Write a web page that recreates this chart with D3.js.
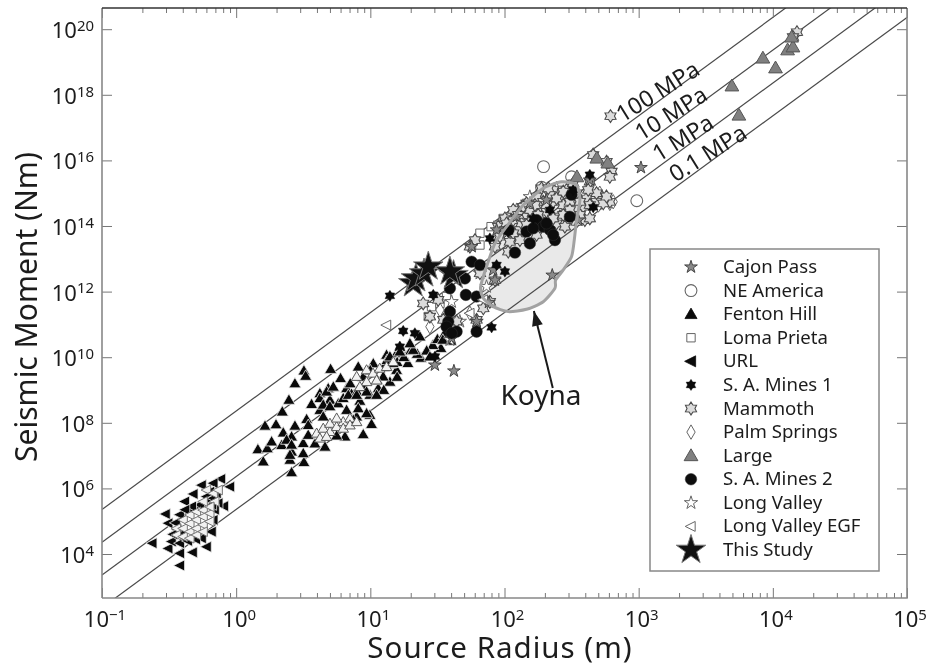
<!DOCTYPE html>
<html><head><meta charset="utf-8">
<script src="https://cdnjs.cloudflare.com/ajax/libs/d3/7.8.5/d3.min.js"></script>
<style>html,body{margin:0;padding:0;background:#fff}svg{display:block;filter:blur(0.5px)}text{font-family:"Noto Sans",sans-serif;fill:#1c1c1c}</style>
</head><body><svg id="c" width="928" height="666"></svg>
<script>
// All points are [log10 radius (m), log10 moment (Nm)].
const xTickExps=[-1,0,1,2,3,4,5];
const yTickExps=[4,6,8,10,12,14,16,18,20];
const stressLabels=["100 MPa","10 MPa","1 MPa","0.1 MPa"];
const stressLineR=[-1,5];
const stressLineM=[[5.36,23.36],[4.36,22.36],[3.36,21.36],[2.36,20.36]];
const labelAnchors=[[2.88,17.14],[3.02,16.58],[3.15,15.94],[3.275,15.32]];
const url=[[-0.113,6.29],[-0.257,6.10],[-0.046,6.05],[-0.170,6.16],[-0.319,5.83],[-0.382,5.60],[-0.526,5.22],[-0.506,4.94],[-0.091,5.46],[-0.170,5.04],[-0.183,4.68],[-0.625,4.33],[-0.506,4.17],[-0.419,4.02],[-0.324,4.05],[-0.220,4.22],[-0.419,3.65],[-0.257,4.48],[-0.146,5.85],[-0.195,5.90],[-0.220,5.75],[-0.133,5.55],[-0.295,5.44],[-0.456,4.63],[-0.481,4.38],[-0.419,4.33],[-0.44,4.75],[-0.40,4.62],[-0.36,4.4],[-0.30,4.45],[-0.27,5.5],[-0.35,5.3],[-0.33,5.45],[-0.47,4.6],[-0.45,4.95],[-0.42,5.2],[-0.38,5.35],[-0.2,5.65],[-0.17,5.7],[-0.16,5.35],[-0.18,5.5]];
const urlCore=[[-0.444,4.78],[-0.444,4.58],[-0.394,5.04],[-0.394,4.78],[-0.394,4.53],[-0.344,5.19],[-0.344,4.93],[-0.344,4.68],[-0.344,4.48],[-0.295,5.29],[-0.295,5.04],[-0.295,4.78],[-0.295,4.58],[-0.245,5.34],[-0.245,5.14],[-0.245,4.89],[-0.245,4.68],[-0.195,5.24],[-0.195,4.99],[-0.22,5.95],[-0.17,5.85],[-0.158,5.6],[-0.195,5.44],[-0.133,5.95],[-0.245,5.6]];
const fentonHill=[[0.505,9.59],[0.518,9.43],[0.438,9.20],[0.393,8.70],[0.344,8.34],[0.215,7.91],[0.297,7.95],[0.438,7.91],[0.525,8.11],[0.162,7.19],[0.232,7.22],[0.264,7.43],[0.351,7.70],[0.339,7.32],[0.413,7.58],[0.202,6.82],[0.401,6.87],[0.505,6.80],[0.413,6.49],[0.413,7.12],[0.500,7.38],[0.562,8.57],[0.624,8.90],[0.686,9.05],[0.704,9.64],[0.778,9.36],[0.823,9.05],[0.860,8.88],[0.624,8.39],[0.699,8.70],[0.761,8.59],[0.922,8.67],[0.997,8.85],[1.059,9.05],[0.947,9.40],[0.910,9.71],[1.022,9.81],[1.121,10.07],[1.196,10.12],[1.146,9.25],[1.196,9.61],[1.096,9.41],[0.997,8.24],[1.009,7.96],[0.947,7.65],[0.811,7.58],[0.749,7.61],[0.662,7.27],[0.587,7.37],[0.537,7.63],[0.537,7.93],[0.649,8.19],[0.823,8.39],[0.898,8.19],[0.85,9.2],[0.95,9.1],[1.05,9.3],[1.0,9.6],[1.1,9.7],[0.9,8.95],[1.15,9.8],[1.2,9.85],[1.2,9.4],[1.1,9.0],[1.28,9.82],[1.377,9.98],[1.526,10.28],[1.466,10.37],[1.124,9.91],[1.22,10.31],[1.35,10.1],[1.42,10.2],[1.3,10.2],[1.25,10.0],[1.5,10.55],[1.6,10.5],[1.55,10.7],[0.624,8.75],[0.674,8.95],[0.724,9.1],[0.649,8.55],[0.699,8.5],[0.798,8.75],[0.836,8.85],[0.898,8.85],[0.972,8.95],[1.047,8.85],[0.91,8.44],[0.972,8.29],[0.873,8.09],[0.376,7.48],[0.413,7.33],[0.401,7.02],[0.5,7.07],[1.146,10.02],[1.22,10.17],[1.32,10.22],[1.54,10.53],[1.37,10.63],[1.295,10.42],[1.444,10.02],[1.17,9.82]];
const fentonCore=[[0.60,7.68],[0.649,7.83],[0.699,7.73],[0.699,7.98],[0.749,7.88],[0.798,8.03],[0.798,7.83],[0.848,8.14],[0.848,7.93],[0.898,8.03],[0.624,7.53],[0.674,7.58],[0.749,8.14],[0.972,9.61],[1.02,9.51],[1.07,9.66],[0.898,9.41],[0.972,9.25],[1.047,9.3],[1.121,9.71],[1.171,9.86],[0.922,9.1]];
const cajonPass=[[3.017,15.78],[2.356,12.50],[1.884,11.67],[1.929,12.35],[1.792,11.09],[1.606,10.58],[1.481,9.76],[1.623,9.58],[1.755,13.37],[2.015,13.78],[1.941,13.88],[2.09,14.29],[2.189,14.69],[2.313,14.79],[1.916,12.66],[2.636,15.40],[2.55,14.18]];
const neAmerica=[[2.291,15.81],[2.986,14.77],[2.5,15.5],[2.276,15.18]];
const lomaPrieta=[[1.817,13.78],[1.99,14.23],[1.817,13.42],[2.164,14.69],[1.9,13.98],[1.568,11.85],[1.456,11.54],[1.519,11.64],[2.276,15.15],[1.593,11.03],[1.432,11.24]];
const saMines1=[[1.146,11.87],[1.245,10.80],[1.904,10.91],[2.636,15.56],[2.661,14.57],[1.891,13.62],[2.028,13.83],[2.003,12.61],[1.941,12.81],[1.332,10.73],[1.482,10.02],[1.22,10.32],[2.214,14.23],[2.338,14.49],[2.512,15.10],[1.469,11.9]];
const mammoth=[[2.79,17.35],[4.18,19.91],[4.15,19.76],[2.661,16.165],[2.761,15.96],[2.798,15.66],[2.785,15.50],[2.636,15.35],[2.723,14.89],[2.785,14.74],[2.686,14.74],[2.612,14.84],[2.599,14.18],[2.537,14.13],[2.463,15.10],[2.363,15.10],[2.276,15.15],[2.164,14.69],[2.264,14.59],[2.363,14.74],[2.438,14.64],[2.537,14.54],[2.003,14.23],[1.953,13.98],[1.742,13.37],[1.78,13.57],[2.065,14.18],[2.14,14.29],[2.214,14.39],[2.313,14.44],[2.413,14.29],[2.115,13.88],[2.239,13.73],[2.388,14.08],[2.512,15.30],[2.065,13.78],[2.003,13.88],[1.929,13.37],[2.028,13.22],[1.929,12.35],[1.817,12.56],[1.891,11.69],[1.842,11.49],[1.643,11.09],[1.792,11.14],[1.506,11.75],[1.444,11.24],[1.544,11.14],[1.394,11.64],[2.14,14.59],[2.19,14.49],[2.239,14.9],[2.289,14.74],[2.338,14.95],[2.388,14.84],[2.438,15.05],[2.487,14.74],[2.537,15.0],[2.587,14.59],[2.636,14.64],[2.686,15.0],[2.736,14.69],[2.76,14.9],[2.562,14.34],[2.636,14.23],[2.487,14.49],[2.438,14.34],[2.363,14.23],[2.313,14.64],[2.251,14.34],[2.189,14.13],[2.127,14.08],[2.065,14.49],[2.015,14.08],[1.966,13.68],[2.04,13.52],[2.115,13.57],[2.164,14.03],[2.264,13.98],[2.45,13.98],[2.562,14.74],[2.624,15.1],[2.326,15.15],[2.227,14.64],[2.102,14.34]];
const palmSprings=[[2.785,14.69],[2.661,16.165],[2.81,14.74],[2.71,15.0],[2.70,14.64],[2.61,14.39],[2.46,14.69],[2.363,14.9],[2.24,14.8],[1.444,10.93],[1.742,11.34],[1.519,11.44]];
const large=[[3.695,18.27],[3.747,17.38],[3.926,19.12],[4.02,18.82],[4.11,19.37],[4.15,19.46],[4.14,19.76],[2.688,16.07],[2.77,15.92],[2.54,15.50]];
const saMines2=[[1.755,12.91],[1.817,12.81],[1.705,12.40],[1.593,12.10],[1.712,11.90],[1.792,11.85],[1.593,11.39],[1.581,11.08],[1.643,10.78],[1.792,10.78],[2.078,13.19],[2.189,13.47],[2.164,13.83],[2.239,14.18],[2.289,13.98],[2.338,13.88],[2.376,13.57],[2.363,13.73],[2.50,14.95],[2.487,14.28],[1.568,10.93],[1.606,10.73],[2.03,13.88],[2.214,13.93],[2.313,14.08]];
const longValley=[[1.593,10.53],[1.792,11.09],[1.667,11.09],[1.606,11.69],[1.817,12.56],[1.866,12.15],[1.966,14.08],[2.09,14.49],[2.189,14.89],[2.288,15.0],[2.388,15.15]];
const longValleyEGF=[[1.121,10.98],[1.742,11.34],[1.842,11.75]];
const thisStudy=[[1.32,12.25],[1.34,12.4],[1.40,12.55],[1.432,12.76],[1.62,12.5],[1.593,12.61]];
const koynaR=[2.425,2.537,2.562,2.537,2.52,2.50,2.438,2.381,2.376,2.289,2.164,2.028,1.916,1.842,1.822,1.866,1.929,2.015,2.14,2.289];
const koynaM=[15.35,15.25,14.79,14.18,13.57,13.07,12.66,12.35,12.10,11.69,11.46,11.39,11.54,11.80,12.15,12.76,13.47,13.98,14.64,15.15];
const koynaArrow=[[2.36,9.06],[2.219,11.41]];
const koynaLabel=[1.97,8.55];
const legendLabels=["Cajon Pass","NE America","Fenton Hill","Loma Prieta","URL","S. A. Mines 1","Mammoth","Palm Springs","Large","S. A. Mines 2","Long Valley","Long Valley EGF","This Study"];

const svg=d3.select("#c");
const p=v=>Math.pow(10,v);
const x=d3.scaleLog().domain([p(-1),p(5)]).range([102,907]);
const y=d3.scaleLog().domain([p(2.659),p(20.646)]).range([598,8]);
const X=d=>x(p(d[0])),Y=d=>y(p(d[1]));

function hexagram(R){const pts=[];for(let i=0;i<12;i++){const r=i%2?R*0.62:R,a=i*Math.PI/6-Math.PI/2;pts.push([r*Math.cos(a),r*Math.sin(a)]);}return "M"+pts.join("L")+"Z";}
const sym=(t,s)=>d3.symbol().type(t).size(s)();
const leftTri={draw(c,size){const h=Math.sqrt(size*1.1547);c.moveTo(-h*0.58,0);c.lineTo(h*0.42,-h/2);c.lineTo(h*0.42,h/2);c.closePath();}};
const upTri={draw(c,size){const h=Math.sqrt(size*1.1547);c.moveTo(0,-h*0.55);c.lineTo(h*0.55,h*0.4);c.lineTo(-h*0.55,h*0.4);c.closePath();}};
const series=[
 {name:"Fenton Hill",data:fentonHill,path:sym(upTri,105),fill:"#0a0a0a",stroke:"#ececec",sw:0.8},
 {name:"Fenton core",data:fentonCore,path:sym(upTri,80),fill:"#f2f2f2",stroke:"#5a5a5a",sw:1},
 {name:"URL",data:url,path:sym(leftTri,105),fill:"#0a0a0a",stroke:"#ececec",sw:0.8},
 {name:"URL core",data:urlCore,path:sym(leftTri,80),fill:"#f2f2f2",stroke:"#777",sw:1},
 {name:"Loma Prieta",data:lomaPrieta,path:sym(d3.symbolSquare,70),fill:"#fff",stroke:"#666",sw:1},
 {name:"Palm Springs",data:palmSprings,path:sym(d3.symbolDiamond,60),fill:"#fff",stroke:"#666",sw:1},
 {name:"NE America",data:neAmerica,path:sym(d3.symbolCircle,110),fill:"#fff",stroke:"#666",sw:1.1},
 {name:"Long Valley",data:longValley,path:sym(d3.symbolStar,55),fill:"#fff",stroke:"#666",sw:1},
 {name:"Mammoth",data:mammoth,path:hexagram(6.4),fill:"#dcdcdc",stroke:"#4a4a4a",sw:1.1},
 {name:"Large",data:large,path:sym(upTri,135),fill:"#808080",stroke:"#555",sw:1},
 {name:"Cajon Pass",data:cajonPass,path:sym(d3.symbolStar,50),fill:"#8a8a8a",stroke:"#444",sw:1},
 {name:"S. A. Mines 2",data:saMines2,path:sym(d3.symbolCircle,105),fill:"#0d0d0d",stroke:"#333",sw:0.5},
 {name:"S. A. Mines 1",data:saMines1,path:hexagram(5.6),fill:"#0a0a0a",stroke:"#0a0a0a",sw:0.4},
 {name:"Long Valley EGF",data:longValleyEGF,path:sym(leftTri,85),fill:"#fff",stroke:"#666",sw:1},
 {name:"This Study",data:thisStudy,path:sym(d3.symbolStar,270),fill:"#111",stroke:"#777",sw:1}
];

svg.append("defs").append("clipPath").attr("id","plot").append("rect").attr("x",102).attr("y",8).attr("width",805).attr("height",590);

const koynaPts=koynaR.map((r,i)=>[r,koynaM[i]]);
const koynaLine=d3.line().x(X).y(Y).curve(d3.curveCardinalClosed.tension(0.3));
svg.append("path").attr("d",koynaLine(koynaPts)).attr("fill","#e9e9e9");

const g=svg.append("g").attr("clip-path","url(#plot)");
stressLineM.forEach(m=>{
 g.append("path").attr("d",d3.line().x(X).y(Y)([[stressLineR[0],m[0]],[stressLineR[1],m[1]]])).attr("fill","none").attr("stroke","#4a4a4a").attr("stroke-width",1.2);
});

series.forEach(s=>{
 g.append("g").selectAll("path").data(s.data).join("path").attr("d",s.path)
  .attr("transform",d=>`translate(${X(d)},${Y(d)})`)
  .attr("fill",s.fill).attr("stroke",s.stroke).attr("stroke-width",s.sw);
});

svg.append("path").attr("d",koynaLine(koynaPts)).attr("fill","none").attr("stroke","#a2a2a2").attr("stroke-width",3);

const a0=koynaArrow[0],a1=koynaArrow[1];
const ang=Math.atan2(Y(a1)-Y(a0),X(a1)-X(a0));
svg.append("path").attr("d",d3.line().x(X).y(Y)(koynaArrow)).attr("stroke","#1a1a1a").attr("stroke-width",2).attr("fill","none");
svg.append("path").attr("d","M0,0L-15,-5.5L-15,5.5Z").attr("fill","#1a1a1a")
 .attr("transform",`translate(${X(a1)},${Y(a1)}) rotate(${ang*180/Math.PI})`);
svg.append("text").attr("x",X(koynaLabel)).attr("y",Y(koynaLabel)).attr("font-size",28).text("Koyna");

stressLabels.forEach((t,i)=>{
 svg.append("text").attr("transform",`translate(${X(labelAnchors[i])},${Y(labelAnchors[i])}) rotate(-32)`)
  .attr("font-size",23).text(t);
});

const minors=[];xTickExps.slice(0,-1).forEach(e=>{for(let k=2;k<10;k++)minors.push(k*p(e));});
const yMajor=yTickExps.map(p),xMajor=xTickExps.map(p);
function ax(gen,tx,vals,len){
 const a=svg.append("g").attr("transform",tx).call(gen.tickValues(vals).tickFormat("").tickSize(len).tickSizeOuter(0));
 a.selectAll("path.domain").remove();a.selectAll("line").attr("stroke","#777").attr("stroke-width",1);
}
ax(d3.axisBottom(x),"translate(0,598)",xMajor,-10);
ax(d3.axisBottom(x),"translate(0,598)",minors,-5);
ax(d3.axisTop(x),"translate(0,8)",xMajor,-10);
ax(d3.axisTop(x),"translate(0,8)",minors,-5);
ax(d3.axisLeft(y),"translate(102,0)",yMajor,-10);
ax(d3.axisRight(y),"translate(907,0)",yMajor,-10);
svg.append("path").attr("d","M102,598V8").attr("stroke","#888").attr("stroke-width",1.6);
svg.append("path").attr("d","M102,598H907V8").attr("stroke","#888").attr("stroke-width",1.6).attr("fill","none");
svg.append("path").attr("d","M102,8H907").attr("stroke","#333").attr("stroke-width",1.3);

function power(sel,e,size){
 sel.append("tspan").attr("font-size",size).text("10");
 sel.append("tspan").attr("font-size",size*0.68).attr("dy",-size*0.33).text(e<0?"\u2212"+(-e):e);
}
xTickExps.forEach(e=>{
 const t=svg.append("text").attr("x",x(p(e))+3).attr("y",627).attr("text-anchor","middle");
 power(t,e,22);
});
yTickExps.forEach(e=>{
 const t=svg.append("text").attr("x",94).attr("y",y(p(e))+9).attr("text-anchor","end");
 power(t,e,22);
});
svg.append("text").attr("x",500).attr("y",658).attr("text-anchor","middle").attr("font-size",29.5).attr("letter-spacing",1).text("Source Radius (m)");
svg.append("text").attr("transform","translate(37,307) rotate(-90)").attr("text-anchor","middle").attr("font-size",30).text("Seismic Moment (Nm)");

const lg=svg.append("g");
lg.append("rect").attr("x",650).attr("y",249).attr("width",229).attr("height",322).attr("fill","#fff").attr("stroke","#888").attr("stroke-width",1.5);
const legendY=d3.scalePoint().domain(legendLabels).range([267,550]);
legendLabels.forEach(n=>{
 const s=series.find(q=>q.name===n);
 lg.append("path").attr("d",s.path).attr("transform",`translate(691,${legendY(n)})`).attr("fill",s.fill).attr("stroke",s.stroke==="#ececec"?s.fill:s.stroke).attr("stroke-width",s.sw);
 lg.append("text").attr("x",723).attr("y",legendY(n)+6).attr("font-size",18.6).text(n);
});
</script></body></html>
